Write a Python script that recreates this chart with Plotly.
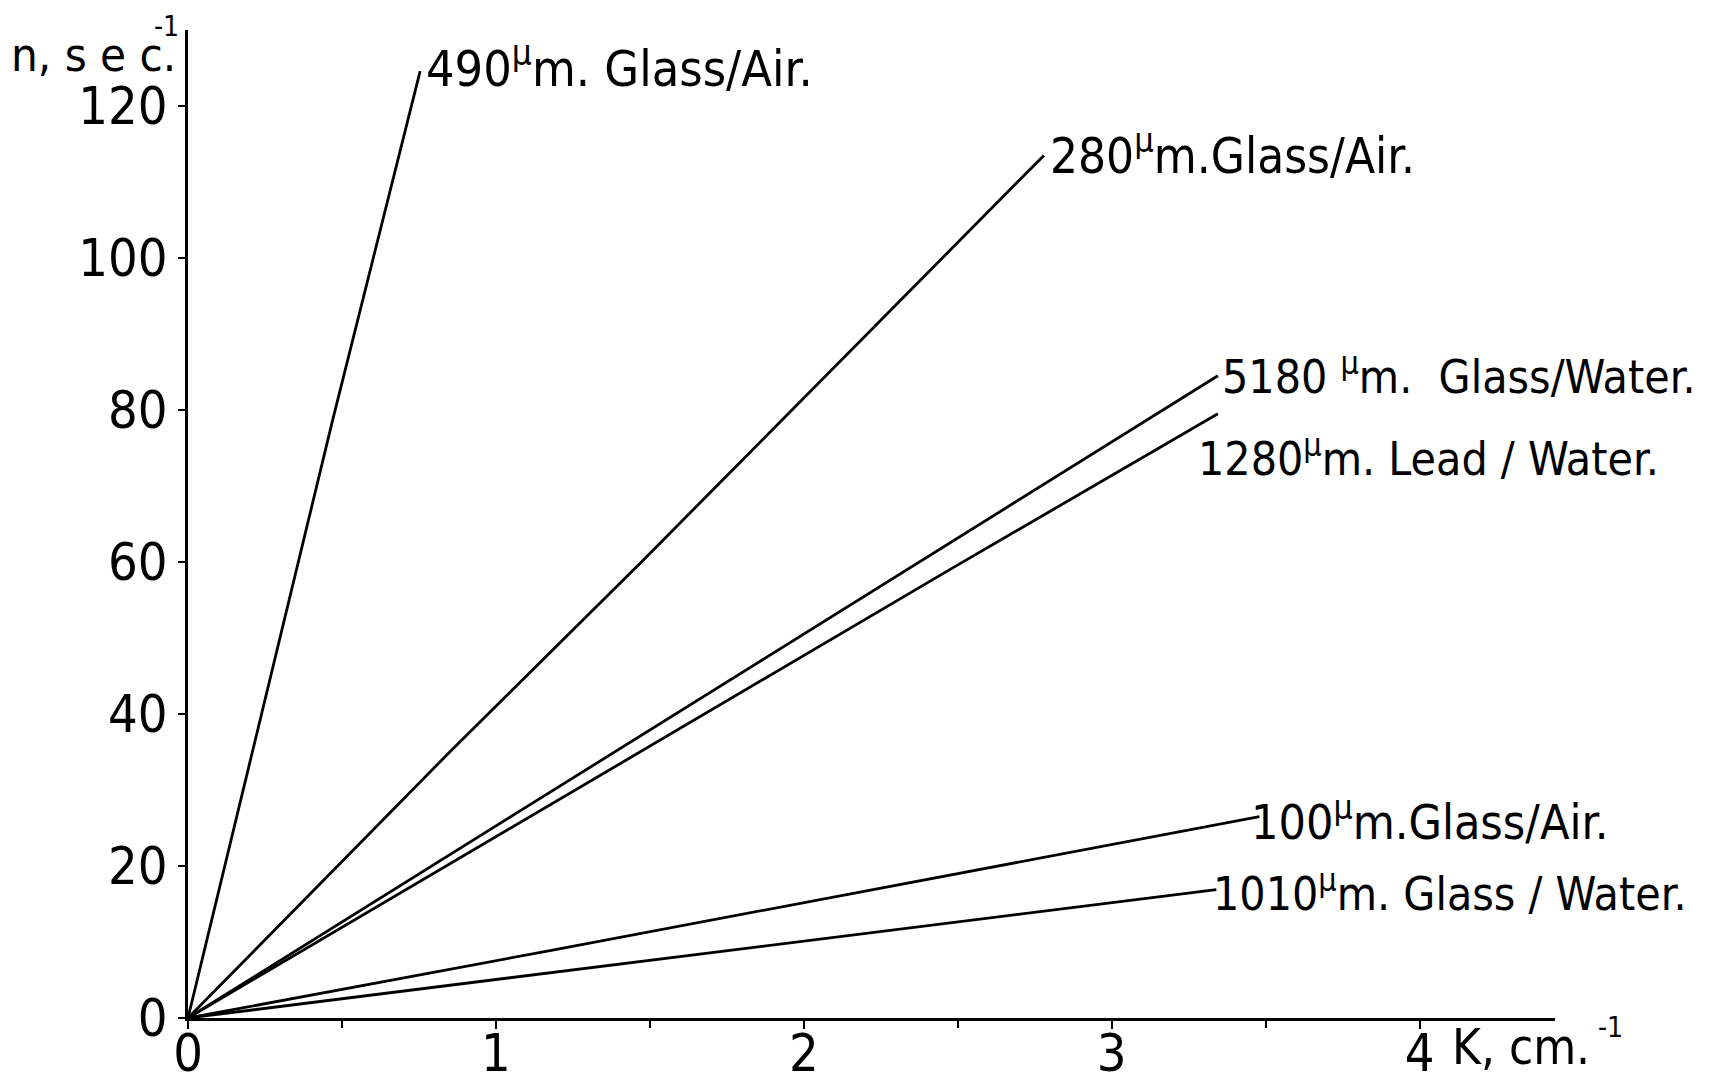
import plotly.graph_objects as go

# Data (K in cm^-1, n in sec^-1)
k_490 = [0, 0.47, 0.754]
n_490 = [0, 78.7, 124.6]
k_280 = [0, 0.85, 1.48, 2.78]
n_280 = [0, 35.0, 60.3, 113.5]
k_5180 = [0, 2.39, 3.345]
n_5180 = [0, 60.3, 84.5]
k_1280 = [0, 2.47, 3.345]
n_1280 = [0, 58.9, 79.5]
k_100 = [0, 1.18, 3.48]
n_100 = [0, 8.9, 26.5]
k_1010 = [0, 1.18, 3.34]
n_1010 = [0, 6.0, 16.9]

labels = [
    "490<sup>μ</sup>m. Glass/Air.",
    "280<sup>μ</sup>m.Glass/Air.",
    "5180 <sup>μ</sup>m.  Glass/Water.",
    "1280<sup>μ</sup>m. Lead / Water.",
    "100<sup>μ</sup>m.Glass/Air.",
    "1010<sup>μ</sup>m. Glass / Water.",
]

x_ticks = [0, 1, 2, 3, 4]
y_ticks = [0, 20, 40, 60, 80, 100, 120]

FONT = "DejaVu Sans Condensed, DejaVu Sans, sans-serif"

series = [
    (k_490, n_490), (k_280, n_280), (k_5180, n_5180),
    (k_1280, n_1280), (k_100, n_100), (k_1010, n_1010),
]

fig = go.Figure()
for (kx, ny), lab in zip(series, labels):
    fig.add_trace(go.Scatter(x=kx, y=ny, mode="lines",
                             line=dict(color="black", width=2.8),
                             showlegend=False, hoverinfo="skip"))

# label placement styles: (xshift, yshift, font size)
styles = [(4, 6, 50), (4, 3, 49), (2, 2, 46), (-22, -42, 46), (-10, -2, 48), (-5, -1, 46)]
for (kx, ny), lab, (dx, dy, fs) in zip(series, labels, styles):
    fig.add_annotation(x=kx[-1], y=ny[-1], text=lab, showarrow=False,
                       xanchor="left", yanchor="middle", xshift=dx, yshift=dy,
                       font=dict(family=FONT, size=fs, color="black"))

# axis titles
fig.add_annotation(xref="paper", yref="paper", x=-0.131, y=0.975,
                   text="n, s e c.", showarrow=False,
                   xanchor="left", yanchor="middle",
                   font=dict(family=FONT, size=47, color="black"))
fig.add_annotation(xref="paper", yref="paper", x=-0.026, y=1.004,
                   text="-1", showarrow=False,
                   xanchor="left", yanchor="middle",
                   font=dict(family=FONT, size=28, color="black"))
fig.add_annotation(xref="paper", yref="paper", x=0.923, y=-0.03,
                   text="K, cm.", showarrow=False,
                   xanchor="left", yanchor="middle",
                   font=dict(family=FONT, size=49, color="black"))
fig.add_annotation(xref="paper", yref="paper", x=1.03, y=-0.01,
                   text="-1", showarrow=False,
                   xanchor="left", yanchor="middle",
                   font=dict(family=FONT, size=28, color="black"))

fig.update_layout(
    width=1711, height=1084,
    margin=dict(l=188, r=156, t=30, b=66),
    paper_bgcolor="white", plot_bgcolor="white",
    font=dict(family=FONT, color="black"),
)
fig.update_xaxes(range=[0, 4.44], tickvals=x_ticks, ticktext=[str(v) for v in x_ticks],
                 automargin=False,
                 showgrid=False, zeroline=False, showline=True, linecolor="black",
                 linewidth=3, ticks="outside", ticklen=8, tickwidth=2, tickcolor="black",
                 ticklabelstandoff=-20,
                 minor=dict(dtick=0.5, tick0=0, ticks="outside", ticklen=7, tickwidth=2,
                            tickcolor="black", showgrid=False),
                 tickfont=dict(family=FONT, size=52, color="black"))
fig.update_yaxes(range=[0, 130], tickvals=y_ticks, ticktext=[str(v) for v in y_ticks],
                 automargin=False,
                 showgrid=False, zeroline=False, showline=True, linecolor="black",
                 linewidth=3, ticks="outside", ticklen=7, tickwidth=2, tickcolor="black",
                 tickfont=dict(family=FONT, size=52, color="black"))

fig.write_html("out.html")
